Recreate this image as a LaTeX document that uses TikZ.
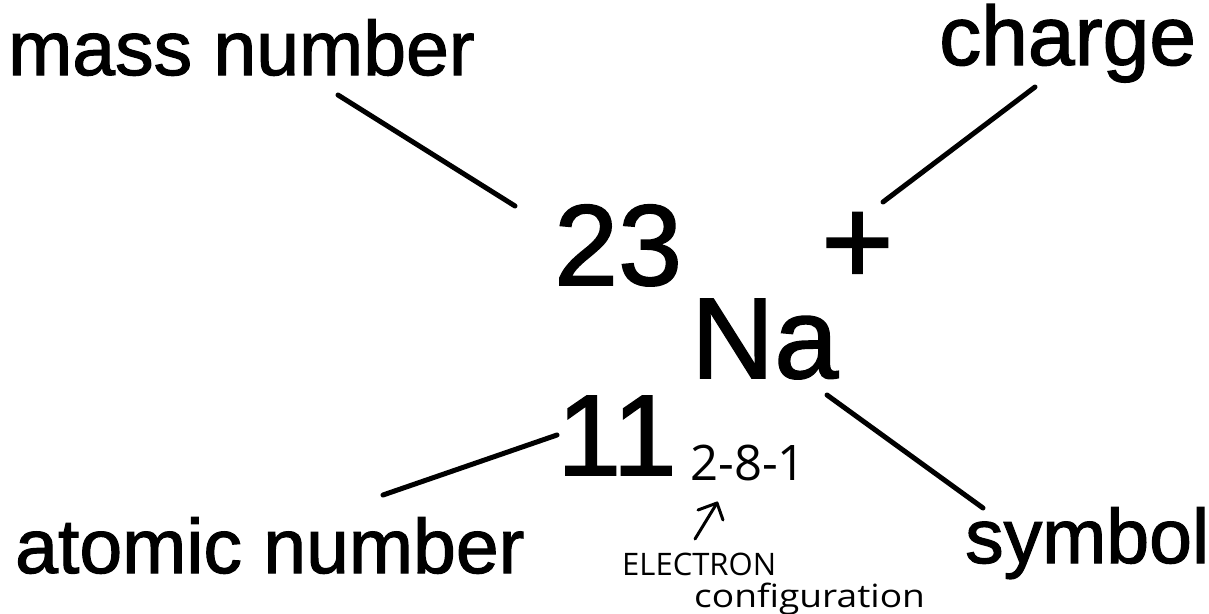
\documentclass[tikz,border=0pt]{standalone}
\usepackage{fontspec}
\setmainfont{Liberation Sans}
\newfontfamily\labelfont{Liberation Sans}[FakeBold=1.5]
\newfontfamily\handfont{Open Sans}
\begin{document}
\begin{tikzpicture}[x=1pt,y=-1pt,
  lbl/.style={inner sep=0pt, anchor=base west, font=\labelfont\fontsize{77}{80}\selectfont},
  big/.style={inner sep=0pt, anchor=base west, font=\labelfont\fontsize{115}{120}\selectfont},
  hand/.style={inner sep=0pt, anchor=base west},
  conn/.style={line width=5pt, line cap=round},
  handline/.style={line width=3pt, line cap=round, line join=round}]
\fill[white] (0,0) rectangle (1209,613);
\useasboundingbox (0,0) rectangle (1209,613);
% labels
\node[lbl] (mass) at (8,75) {mass number};
\node[lbl, font=\labelfont\fontsize{84}{86}\selectfont] (charge) at (939,65) {charge};
\node[lbl] (atomic) at (15,573) {atomic number};
\node[lbl] (symbol) at (965,563) {symbol};
% central notation
\node[big] (A) at (554,285) {23};
\node[inner sep=0pt, anchor=base west, font=\labelfont\fontsize{124}{130}\selectfont] (plus) at (821,284) {+};
\node[big] (Na) at (691,378) {Na};
\node[big] (Z) at (557,475) {11};
% handwriting
\node[hand, font=\handfont\fontsize{49}{50}\selectfont] (conf) at (690,480) {2-8-1};
\node[hand, font=\handfont\fontsize{31}{32}\selectfont] (elec) at (622,575) {ELECTRON};
\node[hand, font=\handfont\fontsize{32}{33}\selectfont, xscale=1.16] (config) at (694,607) {configuration};
% connectors
\coordinate (m1) at (338,95);  \coordinate (m2) at (515,206);
\coordinate (c1) at (1035,87); \coordinate (c2) at (883,202);
\coordinate (a1) at (383,495); \coordinate (a2) at (557,435);
\coordinate (s1) at (827,395); \coordinate (s2) at (983,508);
\draw[conn] (m1) -- (m2);
\draw[conn] (c1) -- (c2);
\draw[conn] (a1) -- (a2);
\draw[conn] (s1) -- (s2);
% hand arrow
\coordinate (t0) at (695,539); \coordinate (tip) at (717,503);
\coordinate (b1) at (698,510); \coordinate (b2) at (723,520);
\draw[handline] (t0) -- (tip);
\draw[handline] (b1) -- (tip) -- (b2);
\end{tikzpicture}
\end{document}
